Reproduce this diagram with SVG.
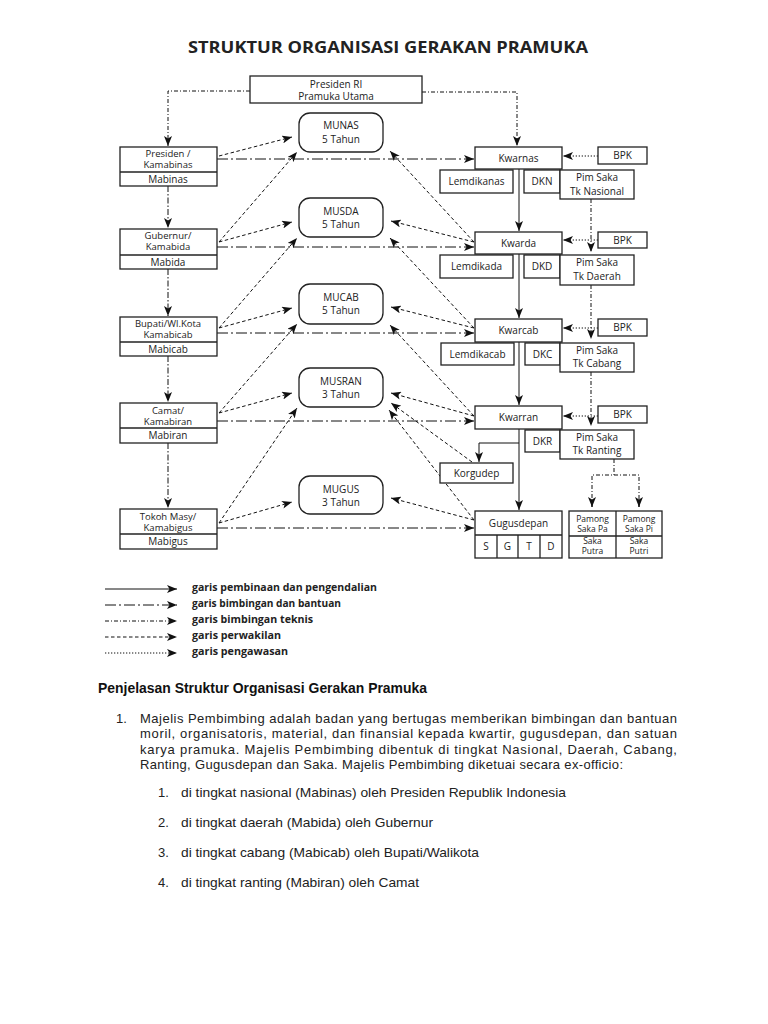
<svg xmlns="http://www.w3.org/2000/svg" width="768" height="1024" viewBox="0 0 768 1024">
<style>
.bg{fill:#fff}
.box{fill:#fff;stroke:#222;stroke-width:1.3}
.t{font-family:"Open Sans","DejaVu Sans",sans-serif;font-size:10px;fill:#222;text-anchor:middle}
.t2{font-family:"Open Sans","DejaVu Sans",sans-serif;font-size:9.5px;fill:#222;text-anchor:middle}
.ts{font-family:"Open Sans","DejaVu Sans",sans-serif;font-size:8.5px;fill:#222;text-anchor:middle}
.ln{stroke:#111;stroke-width:1;fill:none}
.bb{stroke-dasharray:11 3 2 3}
.vk{stroke-dasharray:6 2 1.5 2}
.bt{stroke-dasharray:4 2 1 2}
.pw{stroke-dasharray:3.5 2.5}
.pg{stroke-dasharray:1.3 1.7}
.lg{font-family:"Open Sans","DejaVu Sans",sans-serif;font-size:10px;font-weight:bold;fill:#222}
.p{font-family:"Liberation Sans",Arial,sans-serif;font-size:13px;fill:#222}
</style>
<defs>
<marker id="ah" viewBox="0 0 10 8" refX="10" refY="4" markerWidth="10" markerHeight="8" markerUnits="userSpaceOnUse" orient="auto">
<path d="M0,0 L10,4 L0,8 L2.5,4 z" fill="#111"/>
</marker>
</defs>
<rect class="bg" x="0" y="0" width="768" height="1024"/>
<text x="388" y="53" text-anchor="middle" font-family="'Open Sans','DejaVu Sans',sans-serif" font-weight="bold" font-size="15.5" fill="#222" textLength="400" lengthAdjust="spacingAndGlyphs">STRUKTUR ORGANISASI GERAKAN PRAMUKA</text>

<g id="connectors">
<polyline class="ln bt" points="250,91 168,91 168,146" marker-end="url(#ah)"/>
<polyline class="ln bt" points="422,92 517,92 517,146" marker-end="url(#ah)"/>
<line class="ln vk" x1="168" y1="186" x2="168" y2="228" marker-end="url(#ah)"/>
<line class="ln vk" x1="168" y1="269" x2="168" y2="316" marker-end="url(#ah)"/>
<line class="ln vk" x1="168" y1="356" x2="168" y2="402" marker-end="url(#ah)"/>
<line class="ln vk" x1="168" y1="443" x2="168" y2="508" marker-end="url(#ah)"/>
<line class="ln bb" x1="217" y1="159" x2="474" y2="159" marker-end="url(#ah)"/>
<line class="ln bb" x1="217" y1="247" x2="474" y2="247" marker-end="url(#ah)"/>
<line class="ln bb" x1="217" y1="333" x2="474" y2="333" marker-end="url(#ah)"/>
<line class="ln bb" x1="217" y1="421" x2="474" y2="421" marker-end="url(#ah)"/>
<line class="ln bb" x1="217" y1="528" x2="474" y2="528" marker-end="url(#ah)"/>
<line class="ln pw" x1="219" y1="156" x2="292" y2="137" marker-end="url(#ah)"/>
<line class="ln pw" x1="219" y1="242" x2="292" y2="222" marker-end="url(#ah)"/>
<line class="ln pw" x1="219" y1="242" x2="297" y2="152" marker-end="url(#ah)"/>
<line class="ln pw" x1="219" y1="328" x2="292" y2="308" marker-end="url(#ah)"/>
<line class="ln pw" x1="219" y1="328" x2="297" y2="238" marker-end="url(#ah)"/>
<line class="ln pw" x1="219" y1="413" x2="292" y2="393" marker-end="url(#ah)"/>
<line class="ln pw" x1="219" y1="413" x2="297" y2="324" marker-end="url(#ah)"/>
<line class="ln pw" x1="219" y1="523" x2="292" y2="502" marker-end="url(#ah)"/>
<line class="ln pw" x1="219" y1="523" x2="297" y2="408" marker-end="url(#ah)"/>
<line class="ln pw" x1="474" y1="242" x2="390" y2="151" marker-end="url(#ah)"/>
<line class="ln pw" x1="474" y1="242" x2="391" y2="221" marker-end="url(#ah)"/>
<line class="ln pw" x1="474" y1="328" x2="390" y2="238" marker-end="url(#ah)"/>
<line class="ln pw" x1="474" y1="328" x2="391" y2="307" marker-end="url(#ah)"/>
<line class="ln pw" x1="474" y1="416" x2="390" y2="325" marker-end="url(#ah)"/>
<line class="ln pw" x1="474" y1="416" x2="391" y2="393" marker-end="url(#ah)"/>
<line class="ln pw" x1="472" y1="462" x2="391" y2="403" marker-end="url(#ah)"/>
<line class="ln pw" x1="474" y1="520" x2="389" y2="410" marker-end="url(#ah)"/>
<line class="ln pw" x1="474" y1="520" x2="391" y2="498" marker-end="url(#ah)"/>
<line class="ln" x1="519" y1="169" x2="519" y2="231" marker-end="url(#ah)"/>
<line class="ln" x1="519" y1="254" x2="519" y2="318" marker-end="url(#ah)"/>
<line class="ln" x1="519" y1="342" x2="519" y2="405" marker-end="url(#ah)"/>
<line class="ln" x1="519" y1="429" x2="519" y2="510" marker-end="url(#ah)"/>
<polyline class="ln" points="519,443 479,443 479,462" marker-end="url(#ah)"/>
<line class="ln pg" x1="598" y1="156" x2="563" y2="156" marker-end="url(#ah)"/>
<line class="ln pg" x1="598" y1="240" x2="563" y2="240" marker-end="url(#ah)"/>
<line class="ln pg" x1="598" y1="328" x2="563" y2="328" marker-end="url(#ah)"/>
<line class="ln pg" x1="598" y1="416" x2="563" y2="416" marker-end="url(#ah)"/>
<line class="ln bt" x1="591" y1="199" x2="591" y2="252" marker-end="url(#ah)"/>
<line class="ln bt" x1="591" y1="285" x2="591" y2="339" marker-end="url(#ah)"/>
<line class="ln bt" x1="591" y1="372" x2="591" y2="426" marker-end="url(#ah)"/>
<line class="ln bt" x1="614" y1="459" x2="614" y2="475"/>
<polyline class="ln bt" points="592,507 592,475 639,475 639,507"/>
<line class="ln" x1="592" y1="500" x2="592" y2="507" marker-end="url(#ah)"/>
<line class="ln" x1="639" y1="500" x2="639" y2="507" marker-end="url(#ah)"/>
</g>

<g id="presiden-ri">
<rect class="box" x="250" y="76" width="172" height="27"/>
<text class="t" x="336" y="87.5">Presiden RI</text>
<text class="t" x="336" y="99.5">Pramuka Utama</text>
</g>

<g id="munas"><rect class="box" x="299" y="113" width="84" height="39" rx="11"/>
<text class="t" x="341" y="129">MUNAS</text><text class="t" x="341" y="143">5 Tahun</text></g>
<g id="musda"><rect class="box" x="299" y="198" width="84" height="39" rx="11"/>
<text class="t" x="341" y="214.5">MUSDA</text><text class="t" x="341" y="228">5 Tahun</text></g>
<g id="mucab"><rect class="box" x="299" y="284" width="84" height="40" rx="11"/>
<text class="t" x="341" y="300.5">MUCAB</text><text class="t" x="341" y="314">5 Tahun</text></g>
<g id="musran"><rect class="box" x="299" y="368" width="84" height="39" rx="11"/>
<text class="t" x="341" y="384.5">MUSRAN</text><text class="t" x="341" y="398">3 Tahun</text></g>
<g id="mugus"><rect class="box" x="299" y="476" width="84" height="38" rx="11"/>
<text class="t" x="341" y="492.5">MUGUS</text><text class="t" x="341" y="506">3 Tahun</text></g>

<g id="kamabinas"><rect class="box" x="120" y="147" width="97" height="39"/>
<line class="box" x1="120" y1="172" x2="217" y2="172"/>
<text class="t2" x="168" y="157">Presiden /</text><text class="t2" x="168" y="168">Kamabinas</text><text class="t" x="168" y="182.5">Mabinas</text></g>
<g id="kamabida"><rect class="box" x="120" y="229" width="97" height="40"/>
<line class="box" x1="120" y1="255" x2="217" y2="255"/>
<text class="t2" x="168" y="238.5">Gubernur/</text><text class="t2" x="168" y="249.5">Kamabida</text><text class="t" x="168" y="265.5">Mabida</text></g>
<g id="kamabicab"><rect class="box" x="120" y="317" width="97" height="39"/>
<line class="box" x1="120" y1="342" x2="217" y2="342"/>
<text class="t2" x="168" y="327">Bupati/Wl.Kota</text><text class="t2" x="168" y="338">Kamabicab</text><text class="t" x="168" y="352.5">Mabicab</text></g>
<g id="kamabiran"><rect class="box" x="120" y="403" width="97" height="40"/>
<line class="box" x1="120" y1="428" x2="217" y2="428"/>
<text class="t2" x="168" y="413.5">Camat/</text><text class="t2" x="168" y="424.5">Kamabiran</text><text class="t" x="168" y="439">Mabiran</text></g>
<g id="kamabigus"><rect class="box" x="120" y="509" width="97" height="40"/>
<line class="box" x1="120" y1="534" x2="217" y2="534"/>
<text class="t2" x="168" y="519.5">Tokoh Masy/</text><text class="t2" x="168" y="530.5">Kamabigus</text><text class="t" x="168" y="545">Mabigus</text></g>

<g id="kwarnas"><rect class="box" x="475" y="147" width="87" height="22"/><text class="t" x="518.5" y="161.5">Kwarnas</text></g>
<g id="lemdikanas"><rect class="box" x="440" y="170" width="73" height="23"/><text class="t" x="476.5" y="185">Lemdikanas</text></g>
<g id="dkn"><rect class="box" x="524" y="170" width="36" height="23"/><text class="t" x="542" y="185">DKN</text></g>
<g id="pimsaka-nas"><rect class="box" x="560" y="170" width="74" height="29"/><text class="t" x="597" y="181">Pim Saka</text><text class="t" x="597" y="194.5">Tk Nasional</text></g>
<g id="bpk-nas"><rect class="box" x="598" y="147" width="49" height="17"/><text class="t" x="622.5" y="159">BPK</text></g>

<g id="kwarda"><rect class="box" x="475" y="232" width="87" height="22"/><text class="t" x="518.5" y="246.5">Kwarda</text></g>
<g id="lemdikada"><rect class="box" x="440" y="255" width="73" height="23"/><text class="t" x="476.5" y="270">Lemdikada</text></g>
<g id="dkd"><rect class="box" x="524" y="255" width="36" height="23"/><text class="t" x="542" y="270">DKD</text></g>
<g id="pimsaka-daerah"><rect class="box" x="560" y="255" width="74" height="30"/><text class="t" x="597" y="266">Pim Saka</text><text class="t" x="597" y="280">Tk Daerah</text></g>
<g id="bpk-daerah"><rect class="box" x="598" y="232" width="49" height="16"/><text class="t" x="622.5" y="243.5">BPK</text></g>

<g id="kwarcab"><rect class="box" x="475" y="319" width="87" height="23"/><text class="t" x="518.5" y="334">Kwarcab</text></g>
<g id="lemdikacab"><rect class="box" x="441" y="343" width="73" height="22"/><text class="t" x="477.5" y="357.5">Lemdikacab</text></g>
<g id="dkc"><rect class="box" x="525" y="343" width="35" height="22"/><text class="t" x="542.5" y="357.5">DKC</text></g>
<g id="pimsaka-cabang"><rect class="box" x="560" y="343" width="74" height="29"/><text class="t" x="597" y="353.5">Pim Saka</text><text class="t" x="597" y="367">Tk Cabang</text></g>
<g id="bpk-cabang"><rect class="box" x="598" y="319" width="49" height="17"/><text class="t" x="622.5" y="331">BPK</text></g>

<g id="kwarran"><rect class="box" x="475" y="406" width="87" height="23"/><text class="t" x="518.5" y="421">Kwarran</text></g>
<g id="dkr"><rect class="box" x="525" y="430" width="35" height="22"/><text class="t" x="542.5" y="444.5">DKR</text></g>
<g id="pimsaka-ranting"><rect class="box" x="560" y="430" width="74" height="29"/><text class="t" x="597" y="440.5">Pim Saka</text><text class="t" x="597" y="454">Tk Ranting</text></g>
<g id="bpk-ranting"><rect class="box" x="598" y="406" width="49" height="17"/><text class="t" x="622.5" y="418">BPK</text></g>

<g id="korgudep"><rect class="box" x="440" y="463" width="73" height="20"/><text class="t" x="476.5" y="476.5">Korgudep</text></g>

<g id="gugusdepan"><rect class="box" x="475" y="511" width="87" height="47"/>
<line class="box" x1="475" y1="535" x2="562" y2="535"/>
<line class="box" x1="497" y1="535" x2="497" y2="558"/>
<line class="box" x1="518" y1="535" x2="518" y2="558"/>
<line class="box" x1="540" y1="535" x2="540" y2="558"/>
<text class="t" x="518.5" y="526.5">Gugusdepan</text>
<text class="t" x="486" y="550">S</text><text class="t" x="507.5" y="550">G</text><text class="t" x="529" y="550">T</text><text class="t" x="551" y="550">D</text></g>

<g id="pamong-saka"><rect class="box" x="569" y="511" width="93" height="47"/>
<line class="box" x1="616" y1="511" x2="616" y2="558"/>
<line class="box" x1="569" y1="536" x2="662" y2="536"/>
<text class="ts" x="592.5" y="522">Pamong</text><text class="ts" x="592.5" y="532">Saka Pa</text>
<text class="ts" x="639" y="522">Pamong</text><text class="ts" x="639" y="532">Saka Pi</text>
<text class="ts" x="592.5" y="544">Saka</text><text class="ts" x="592.5" y="554">Putra</text>
<text class="ts" x="639" y="544">Saka</text><text class="ts" x="639" y="554">Putri</text></g>

<g id="legend">
<line class="ln" x1="105" y1="589" x2="177" y2="589" marker-end="url(#ah)"/>
<line class="ln bb" x1="105" y1="605" x2="177" y2="605" marker-end="url(#ah)"/>
<line class="ln bt" x1="105" y1="621" x2="177" y2="621" marker-end="url(#ah)"/>
<line class="ln pw" x1="105" y1="637" x2="177" y2="637" marker-end="url(#ah)"/>
<line class="ln pg" x1="105" y1="653" x2="177" y2="653" marker-end="url(#ah)"/>
<text class="lg" x="192" y="590.5" textLength="185" lengthAdjust="spacingAndGlyphs">garis pembinaan dan pengendalian</text>
<text class="lg" x="192" y="606.5" textLength="149" lengthAdjust="spacingAndGlyphs">garis bimbingan dan bantuan</text>
<text class="lg" x="192" y="622.5" textLength="121" lengthAdjust="spacingAndGlyphs">garis bimbingan teknis</text>
<text class="lg" x="192" y="638.5" textLength="89" lengthAdjust="spacingAndGlyphs">garis perwakilan</text>
<text class="lg" x="192" y="654.5" textLength="96" lengthAdjust="spacingAndGlyphs">garis pengawasan</text>
</g>

<g id="penjelasan">
<text x="98" y="693" font-family="'Liberation Sans',Arial,sans-serif" font-weight="bold" font-size="15" fill="#111" textLength="329" lengthAdjust="spacingAndGlyphs">Penjelasan Struktur Organisasi Gerakan Pramuka</text>
<text class="p" x="116" y="722.5">1.</text>
<text class="p" x="140" y="722.5" textLength="537" lengthAdjust="spacing">Majelis Pembimbing adalah badan yang bertugas memberikan bimbingan dan bantuan</text>
<text class="p" x="140" y="738" textLength="537" lengthAdjust="spacing">moril, organisatoris, material, dan finansial kepada kwartir, gugusdepan, dan satuan</text>
<text class="p" x="140" y="753.5" textLength="537" lengthAdjust="spacing">karya pramuka. Majelis Pembimbing dibentuk di tingkat Nasional, Daerah, Cabang,</text>
<text class="p" x="140" y="768.5" textLength="483" lengthAdjust="spacing">Ranting, Gugusdepan dan Saka. Majelis Pembimbing diketuai secara ex-officio:</text>
<text class="p" x="158" y="797">1.</text>
<text class="p" x="181" y="797" textLength="385" lengthAdjust="spacingAndGlyphs">di tingkat nasional (Mabinas) oleh Presiden Republik Indonesia</text>
<text class="p" x="158" y="826.5">2.</text>
<text class="p" x="181" y="826.5" textLength="252" lengthAdjust="spacingAndGlyphs">di tingkat daerah (Mabida) oleh Gubernur</text>
<text class="p" x="158" y="856.5">3.</text>
<text class="p" x="181" y="856.5" textLength="298" lengthAdjust="spacingAndGlyphs">di tingkat cabang (Mabicab) oleh Bupati/Walikota</text>
<text class="p" x="158" y="886.5">4.</text>
<text class="p" x="181" y="886.5" textLength="238" lengthAdjust="spacingAndGlyphs">di tingkat ranting (Mabiran) oleh Camat</text>
</g>
</svg>
